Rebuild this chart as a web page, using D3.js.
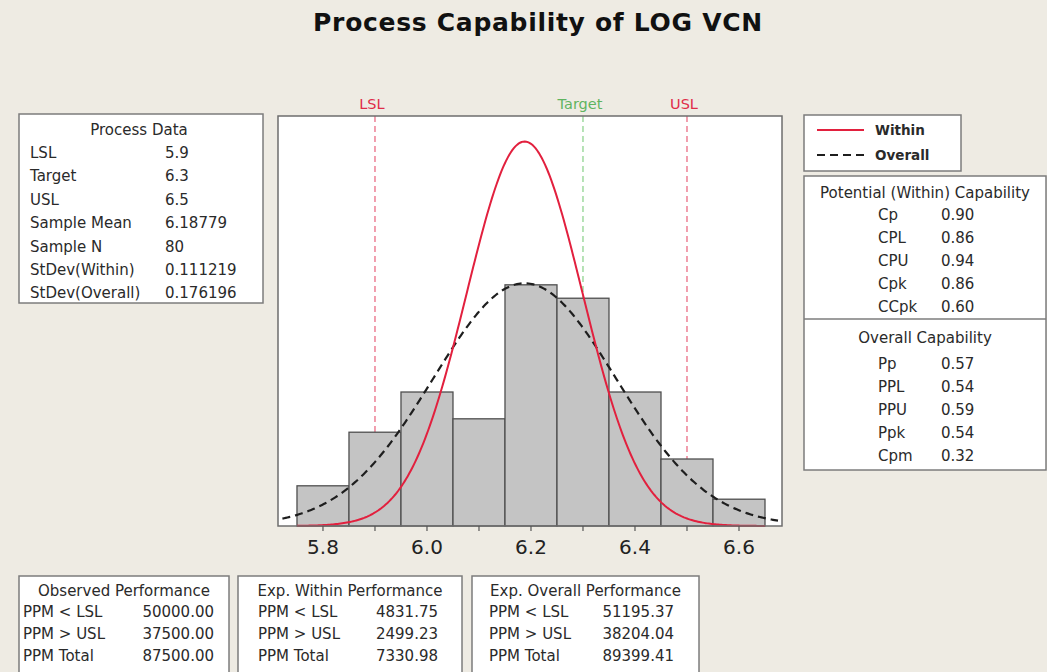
<!DOCTYPE html>
<html><head><meta charset="utf-8">
<script src="https://cdn.jsdelivr.net/npm/d3@7/dist/d3.min.js"></script>
<style>body{margin:0;background:#eeebe3}svg{display:block}</style>
</head><body>
<script>
// ---- data ----
const binMids = [5.8, 5.9, 6.0, 6.1, 6.2, 6.3, 6.4, 6.5, 6.6];
const binCounts = [3, 7, 10, 8, 18, 17, 10, 5, 2];
const binWidth = 0.1;
const xTickValues = [5.8, 6.0, 6.2, 6.4, 6.6];
const xMinorTicks = [5.8, 5.9, 6.0, 6.1, 6.2, 6.3, 6.4, 6.5, 6.6];
const specNames = ["LSL", "Target", "USL"];
const specValues = [5.9, 6.3, 6.5];
const sampleMean = 6.18779;
const sampleN = 80;
const sdWithin = 0.111219;
const sdOverall = 0.176196;
const processLabels = ["LSL", "Target", "USL", "Sample Mean", "Sample N", "StDev(Within)", "StDev(Overall)"];
const processValues = ["5.9", "6.3", "6.5", "6.18779", "80", "0.111219", "0.176196"];
const potentialLabels = ["Cp", "CPL", "CPU", "Cpk", "CCpk"];
const potentialValues = ["0.90", "0.86", "0.94", "0.86", "0.60"];
const overallLabels = ["Pp", "PPL", "PPU", "Ppk", "Cpm"];
const overallValues = ["0.57", "0.54", "0.59", "0.54", "0.32"];
const perfTitles = ["Observed Performance", "Exp. Within Performance", "Exp. Overall Performance"];
const perfLabels = ["PPM < LSL", "PPM > USL", "PPM Total"];
const observedPPM = ["50000.00", "37500.00", "87500.00"];
const withinPPM = ["4831.75", "2499.23", "7330.98"];
const overallPPM = ["51195.37", "38204.04", "89399.41"];

// ---- layout ----
const W = 1047, H = 672;
const FONT = "'DejaVu Sans', Verdana, sans-serif";
const TXT = "#2a2a2a";
const BORDER = "#7c7c7c";
const frame = {l: 278, r: 782, t: 116, b: 526};

const svg = d3.select("body").append("svg").attr("width", W).attr("height", H)
  .style("font-family", FONT);
svg.append("rect").attr("width", W).attr("height", H).attr("fill", "#eeebe3");

// title
svg.append("text").attr("x", 538).attr("y", 31).attr("text-anchor", "middle")
  .attr("font-size", 25).attr("font-weight", "bold").attr("letter-spacing", 0.7)
  .attr("fill", "#111").text("Process Capability of LOG VCN");

const x = d3.scaleLinear().domain([5.7135, 6.6827]).range([frame.l, frame.r]);
const y = d3.scaleLinear().domain([0, 30.6]).range([frame.b, frame.t]);

// plot background
svg.append("rect").attr("x", frame.l).attr("y", frame.t)
  .attr("width", frame.r - frame.l).attr("height", frame.b - frame.t).attr("fill", "#fff");

// spec lines (behind bars)
const specColor = ["#e8607a", "#86cf86", "#e8607a"];
const specLabelColor = ["#e02c48", "#5fb45f", "#e02c48"];
specValues.forEach((v, i) => {
  svg.append("line").attr("x1", x(v)).attr("x2", x(v)).attr("y1", frame.t).attr("y2", frame.b)
    .attr("stroke", specColor[i]).attr("stroke-width", 1.2).attr("stroke-dasharray", "6,4");
  svg.append("text").attr("x", x(v) - 3).attr("y", 109).attr("text-anchor", "middle")
    .attr("font-size", 14.5).attr("fill", specLabelColor[i]).text(specNames[i]);
});

// bars
svg.append("g").selectAll("rect").data(binMids).join("rect")
  .attr("x", d => x(d - binWidth / 2))
  .attr("width", d => x(d + binWidth / 2) - x(d - binWidth / 2))
  .attr("y", (d, i) => y(binCounts[i]))
  .attr("height", (d, i) => y(0) - y(binCounts[i]))
  .attr("fill", "#c4c4c4").attr("stroke", "#4f4f4f").attr("stroke-width", 1.3);

// fitted normal curves (from sample mean / stdev shown in Process Data)
function pdf(v, m, s) { return Math.exp(-0.5 * ((v - m) / s) ** 2) / (s * Math.sqrt(2 * Math.PI)); }
const line = d3.line().x(d => x(d[0])).y(d => y(d[1])).curve(d3.curveLinear);
function curvePts(lo, hi, s) {
  const pts = [];
  const n = 300;
  for (let k = 0; k <= n; k++) {
    const v = lo + (hi - lo) * k / n;
    pts.push([v, sampleN * binWidth * pdf(v, sampleMean, s)]);
  }
  return pts;
}
svg.append("path").datum(curvePts(5.722, 6.675, sdOverall)).attr("d", line)
  .attr("fill", "none").attr("stroke", "#1e1e1e").attr("stroke-width", 2.2)
  .attr("stroke-dasharray", "8,5");
svg.append("path").datum(curvePts(5.75, 6.65, sdWithin)).attr("d", line)
  .attr("fill", "none").attr("stroke", "#e2203e").attr("stroke-width", 2);

// frame
svg.append("rect").attr("x", frame.l).attr("y", frame.t)
  .attr("width", frame.r - frame.l).attr("height", frame.b - frame.t)
  .attr("fill", "none").attr("stroke", "#6e6e6e").attr("stroke-width", 1.5);

// x axis ticks
svg.append("g").selectAll("line").data(xMinorTicks).join("line")
  .attr("x1", d => x(d)).attr("x2", d => x(d)).attr("y1", frame.b).attr("y2", frame.b + 5)
  .attr("stroke", "#555").attr("stroke-width", 1.2);
svg.append("g").selectAll("text").data(xTickValues).join("text")
  .attr("x", d => x(d)).attr("y", 554).attr("text-anchor", "middle")
  .attr("font-size", 20).attr("fill", "#222").text(d => d3.format(".1f")(d));

// helpers
function box(x0, y0, x1, y1) {
  svg.append("rect").attr("x", x0).attr("y", y0).attr("width", x1 - x0).attr("height", y1 - y0)
    .attr("fill", "#fff").attr("stroke", BORDER).attr("stroke-width", 1.5);
}
function txt(xp, yp, s, anchor, size, weight) {
  svg.append("text").attr("x", xp).attr("y", yp).attr("text-anchor", anchor || "start")
    .attr("font-size", size || 15).attr("font-weight", weight || "normal")
    .attr("fill", TXT).text(s);
}

// Process Data box
box(19, 114, 263, 303);
txt(139, 135, "Process Data", "middle");
processLabels.forEach((l, i) => {
  txt(30, 158 + i * 23.4, l);
  txt(165, 158 + i * 23.4, processValues[i]);
});

// Legend
box(804, 115, 961, 171);
svg.append("line").attr("x1", 817).attr("x2", 864).attr("y1", 130).attr("y2", 130)
  .attr("stroke", "#e2203e").attr("stroke-width", 2);
svg.append("line").attr("x1", 817).attr("x2", 866).attr("y1", 155).attr("y2", 155)
  .attr("stroke", "#1e1e1e").attr("stroke-width", 2.2).attr("stroke-dasharray", "8,5");
txt(875, 135, "Within", "start", 13.5, "bold");
txt(875, 160, "Overall", "start", 13.5, "bold");

// Capability box
box(804, 176, 1046, 470);
svg.append("line").attr("x1", 804).attr("x2", 1046).attr("y1", 319).attr("y2", 319)
  .attr("stroke", BORDER).attr("stroke-width", 1.5);
txt(925, 198, "Potential (Within) Capability", "middle");
potentialLabels.forEach((l, i) => {
  txt(878, 220 + i * 23, l);
  txt(941, 220 + i * 23, potentialValues[i]);
});
txt(925, 343, "Overall Capability", "middle");
overallLabels.forEach((l, i) => {
  txt(878, 369 + i * 23, l);
  txt(941, 369 + i * 23, overallValues[i]);
});

// Performance boxes
const perfBoxes = [
  {x0: 19, x1: 229, lx: 23, vx: 214, vals: observedPPM},
  {x0: 238, x1: 462, lx: 258, vx: 438, vals: withinPPM},
  {x0: 472, x1: 699, lx: 489, vx: 674, vals: overallPPM}
];
perfBoxes.forEach((b, j) => {
  box(b.x0, 576, b.x1, 680);
  txt((b.x0 + b.x1) / 2, 596, perfTitles[j], "middle");
  perfLabels.forEach((l, i) => {
    txt(b.lx, 617 + i * 22, l);
    txt(b.vx, 617 + i * 22, b.vals[i], "end");
  });
});
</script>
</body></html>
